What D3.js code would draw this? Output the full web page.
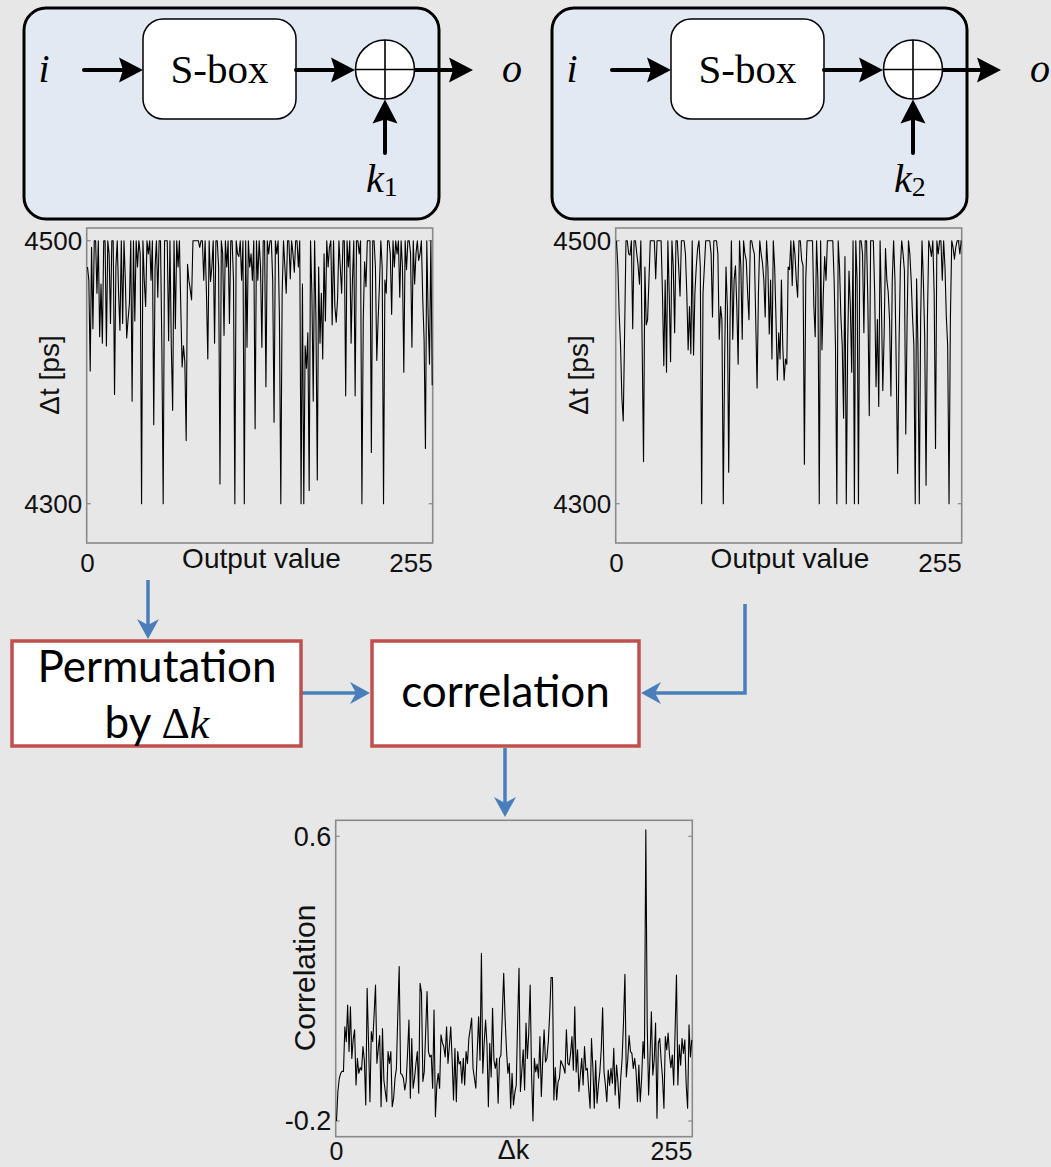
<!DOCTYPE html>
<html><head><meta charset="utf-8">
<script src="https://cdn.jsdelivr.net/npm/d3@7"></script>
<style>html,body{margin:0;padding:0;background:#e7e7e7;}svg{display:block}</style>
</head><body>
<script>
// ---- data ----
const outputIndex = d3.range(256); // output value 0..255 / Δk 0..255
const deltaT1 = [
4480,4470,4401,4495,4433,4500,4500,4460,4500,4427,4467,4422,4500,4500,4420,4500,
4490,4437,4500,4500,4383,4480,4500,4460,4432,4500,4437,4500,4470,4426,4440,4452,
4500,4378,4500,4439,4500,4480,4500,4490,4300,4500,4470,4450,4500,4490,4500,4470,
4500,4360,4480,4500,4457,4500,4500,4420,4300,4500,4500,4500,4424,4500,4420,4371,
4500,4433,4500,4480,4500,4450,4404,4420,4408,4348,4482,4470,4463,4455,4500,4500,
4500,4500,4500,4495,4500,4500,4470,4500,4460,4410,4500,4469,4480,4500,4422,4500,
4500,4480,4315,4500,4490,4428,4500,4480,4500,4437,4500,4500,4470,4300,4500,4490,
4488,4500,4470,4500,4300,4500,4419,4500,4480,4490,4470,4500,4357,4500,4470,4500,
4480,4419,4500,4500,4389,4500,4490,4500,4500,4470,4362,4500,4490,4500,4440,4300,
4460,4500,4480,4460,4500,4500,4471,4500,4490,4476,4500,4500,4480,4500,4300,4467,
4300,4420,4403,4430,4310,4500,4460,4378,4500,4440,4318,4480,4422,4460,4410,4490,
4439,4500,4480,4495,4500,4436,4500,4450,4438,4456,4500,4480,4460,4500,4500,4382,
4500,4480,4500,4422,4470,4500,4382,4500,4500,4490,4500,4300,4440,4484,4465,4500,
4500,4500,4339,4500,4500,4480,4409,4440,4467,4500,4480,4300,4470,4460,4500,4500,
4490,4444,4500,4480,4500,4490,4500,4457,4500,4480,4400,4500,4478,4500,4500,4490,
4419,4500,4467,4490,4500,4485,4490,4500,4456,4425,4342,4500,4443,4406,4500,4390];
const deltaT2 = [
4500,4480,4444,4420,4380,4363,4430,4500,4500,4490,4489,4500,4433,4500,4500,4490,
4481,4467,4500,4420,4332,4480,4436,4440,4470,4500,4500,4500,4500,4471,4500,4500,
4500,4500,4460,4405,4470,4400,4500,4460,4408,4500,4480,4430,4500,4500,4480,4458,
4500,4500,4500,4490,4460,4417,4450,4414,4500,4413,4460,4480,4494,4500,4480,4300,
4460,4480,4500,4500,4500,4500,4490,4442,4500,4500,4500,4490,4425,4450,4440,4300,
4410,4480,4450,4324,4440,4500,4425,4470,4481,4450,4406,4500,4480,4425,4500,4490,
4485,4460,4440,4500,4500,4494,4490,4440,4388,4460,4500,4490,4483,4470,4442,4500,
4480,4429,4470,4410,4500,4480,4440,4394,4430,4410,4470,4420,4394,4410,4406,4480,
4478,4500,4466,4500,4490,4470,4457,4500,4500,4485,4481,4330,4470,4500,4500,4500,
4500,4500,4450,4427,4500,4470,4300,4500,4417,4460,4488,4470,4500,4500,4500,4500,
4500,4470,4420,4300,4500,4480,4442,4420,4365,4488,4300,4420,4477,4450,4400,4500,
4300,4500,4470,4300,4500,4500,4490,4430,4500,4500,4450,4367,4500,4500,4500,4460,
4389,4440,4374,4500,4450,4386,4429,4494,4470,4461,4440,4382,4470,4500,4470,4400,
4323,4420,4480,4500,4490,4477,4353,4440,4500,4490,4470,4442,4420,4300,4471,4420,
4300,4440,4500,4470,4427,4314,4440,4500,4495,4488,4500,4460,4342,4500,4490,4500,
4500,4470,4500,4480,4442,4420,4300,4440,4500,4495,4486,4495,4500,4500,4490,4500];
const correlation = [
-0.2,-0.117,-0.08,-0.066,-0.06,-0.061,0.065,0.023,0.126,-0.005,0.121,-0.024,0.03,0.056,-0.099,-0.024,
-0.066,-0.05,-0.057,0.009,-0.03,-0.155,0.173,0.02,-0.146,0.051,0.023,0.1,0.182,-0.038,0.004,0.04,
-0.16,0.06,-0.085,-0.117,-0.146,-0.005,-0.038,-0.005,-0.16,-0.136,-0.08,-0.052,0.1,0.234,-0.066,-0.07,
-0.08,-0.113,-0.089,-0.01,0.084,-0.136,0.032,-0.108,-0.08,-0.04,-0.005,-0.122,0.187,0.16,-0.089,-0.061,
0.05,0.164,-0.005,-0.02,-0.015,-0.108,0.112,-0.188,-0.1,-0.066,-0.108,0.042,0.02,0.009,-0.02,0.065,
-0.038,0.01,0.065,-0.029,-0.141,0.004,-0.146,-0.005,-0.04,-0.033,-0.094,-0.024,-0.099,-0.005,-0.038,0.032,
0.06,0.089,-0.052,-0.08,-0.108,-0.005,0.093,-0.029,0.271,-0.066,0.02,0.084,0.014,-0.16,0.018,-0.076,
0.117,-0.03,-0.052,-0.024,-0.15,-0.024,-0.015,0.1,0.215,0.089,0.0,-0.066,-0.038,-0.164,-0.066,-0.155,
-0.12,-0.099,0.08,0.229,-0.117,-0.06,0.0,-0.113,0.075,-0.024,0.05,0.182,-0.071,-0.2,-0.024,-0.062,
-0.04,-0.08,0.037,-0.131,-0.03,0.056,-0.034,-0.024,0.023,0.1,0.203,0.203,-0.141,-0.05,-0.141,-0.09,
-0.08,-0.03,-0.04,-0.05,-0.066,0.056,-0.038,-0.043,-0.01,0.037,-0.057,0.121,-0.062,0.0,-0.117,-0.07,
-0.024,-0.099,0.009,-0.057,-0.052,-0.11,-0.164,0.032,-0.05,-0.164,-0.03,-0.15,-0.099,-0.062,0.0,0.118,
-0.062,-0.099,-0.146,-0.057,-0.1,-0.052,-0.094,0.004,-0.127,-0.043,-0.09,-0.164,-0.08,-0.024,0.08,0.212,
-0.076,-0.03,0.04,-0.005,-0.01,-0.052,-0.024,-0.06,-0.146,-0.043,-0.146,-0.08,0.023,-0.024,0.618,0.07,
-0.127,-0.02,0.107,-0.071,-0.03,0.075,-0.192,0.02,0.032,-0.03,-0.08,-0.164,0.037,0.0,0.047,-0.015,
-0.05,-0.015,-0.099,0.05,0.21,-0.099,0.014,-0.043,0.032,-0.01,0.028,-0.1,-0.164,0.07,-0.02,0.028];
const dtTicks = [4300, 4500];
const corrTicks = [-0.2, 0.6];
const xTickLabels = ["0", "255"];
const keyLabels = ["1", "2"];

// ---- drawing ----
const W = 1051, H = 1167;
const svg = d3.select("body").append("svg").attr("width", W).attr("height", H);
svg.append("rect").attr("width", W).attr("height", H).attr("fill", "#e7e7e7");

const SERIF = "'Liberation Serif','Times New Roman',serif";
const SANS = "'Liberation Sans',Arial,sans-serif";

function blackArrow(g, x1, y1, x2, y2) {
  const L = 24, hw = 12.5, notch = 4;
  const a = Math.atan2(y2 - y1, x2 - x1), c = Math.cos(a), s = Math.sin(a);
  const bx = x2 - L * c, by = y2 - L * s;
  g.append("line").attr("x1", x1).attr("y1", y1).attr("x2", bx + notch * c).attr("y2", by + notch * s)
    .attr("stroke", "#000").attr("stroke-width", 4).attr("stroke-linecap", "round");
  g.append("path").attr("d",
    `M${x2},${y2} L${bx - hw * s},${by + hw * c} L${bx + notch * c},${by + notch * s} L${bx + hw * s},${by - hw * c} Z`)
    .attr("fill", "#000");
}

function cipherBox(dx, sub) {
  const g = svg.append("g").attr("transform", `translate(${dx},0)`);
  g.append("rect").attr("x", 24).attr("y", 8).attr("width", 415).attr("height", 211).attr("rx", 22)
    .attr("fill", "#e3e9f3").attr("stroke", "#000").attr("stroke-width", 3);
  g.append("rect").attr("x", 143).attr("y", 19).attr("width", 153).attr("height", 100).attr("rx", 20)
    .attr("fill", "#fff").attr("stroke", "#000").attr("stroke-width", 1.5);
  g.append("text").attr("x", 219.5).attr("y", 83).attr("text-anchor", "middle")
    .attr("font-family", SERIF).attr("font-size", 41).text("S-box");
  g.append("text").attr("x", 44).attr("y", 82).attr("text-anchor", "middle")
    .attr("font-family", SERIF).attr("font-style", "italic").attr("font-size", 40).text("i");
  g.append("text").attr("x", 512).attr("y", 82).attr("text-anchor", "middle")
    .attr("font-family", SERIF).attr("font-style", "italic").attr("font-size", 40).text("o");
  blackArrow(g, 84, 70, 143, 70);
  blackArrow(g, 296, 70, 355, 70);
  blackArrow(g, 415, 70, 473, 70);
  blackArrow(g, 385, 153, 385, 99.5);
  g.append("circle").attr("cx", 385).attr("cy", 69.5).attr("r", 29.5)
    .attr("fill", "#fff").attr("stroke", "#000").attr("stroke-width", 1.6);
  g.append("line").attr("x1", 355.5).attr("x2", 414.5).attr("y1", 69.5).attr("y2", 69.5).attr("stroke", "#000").attr("stroke-width", 1.6);
  g.append("line").attr("x1", 385).attr("x2", 385).attr("y1", 40).attr("y2", 99).attr("stroke", "#000").attr("stroke-width", 1.6);
  const t = g.append("text").attr("x", 366).attr("y", 192).attr("font-family", SERIF).attr("font-size", 40);
  t.append("tspan").attr("font-style", "italic").text("k");
  t.append("tspan").attr("font-size", 28).attr("dy", 4).text(sub);
}
cipherBox(0, keyLabels[0]);
cipherBox(528, keyLabels[1]);

function linePlot(o) {
  const g = svg.append("g");
  const x = d3.scaleLinear().domain([0, 255]).range([o.x0 + 0.8, o.x1 - 0.5]);
  const y = d3.scaleLinear().domain(o.tickVals).range(o.tickPix);
  g.append("rect").attr("x", o.x0).attr("y", o.y0).attr("width", o.x1 - o.x0).attr("height", o.y1 - o.y0)
    .attr("fill", "none").attr("stroke", "#8a8a8a").attr("stroke-width", 1.6);
  o.tickVals.forEach((v, i) => {
    g.append("line").attr("x1", o.x0).attr("x2", o.x0 + 4).attr("y1", y(v)).attr("y2", y(v)).attr("stroke", "#8a8a8a").attr("stroke-width", 1.2);
    g.append("line").attr("x1", o.x1 - 4).attr("x2", o.x1).attr("y1", y(v)).attr("y2", y(v)).attr("stroke", "#8a8a8a").attr("stroke-width", 1.2);
    g.append("text").attr("x", o.x0 - 4.5).attr("y", y(v) + 9.3).attr("text-anchor", "end")
      .attr("font-family", SANS).attr("font-size", o.tickSize).attr("fill", "#111").text(o.tickFmt(v));
  });
  g.append("text").attr("x", x(0)).attr("y", o.xTickY).attr("text-anchor", "middle")
    .attr("font-family", SANS).attr("font-size", o.xTickSize || o.tickSize).attr("fill", "#111").text(xTickLabels[0]);
  g.append("text").attr("x", o.x1).attr("y", o.xTickY).attr("text-anchor", "end")
    .attr("font-family", SANS).attr("font-size", o.xTickSize || o.tickSize).attr("fill", "#111").text(xTickLabels[1]);
  g.append("text").attr("x", o.xLabX).attr("y", o.xLabY).attr("text-anchor", "middle")
    .attr("font-family", SANS).attr("font-size", o.labSize).attr("fill", "#111").text(o.xLabel);
  g.append("text").attr("transform", `translate(${o.yLabX},${o.yLabY}) rotate(-90)`).attr("text-anchor", "middle")
    .attr("font-family", SANS).attr("font-size", o.yLabSize).attr("fill", "#111").text(o.yLabel);
  const line = d3.line().x((d, i) => x(outputIndex[i])).y(d => y(d));
  g.append("path").datum(o.data).attr("d", line).attr("fill", "none").attr("stroke", "#000").attr("stroke-width", 1.1)
    .attr("stroke-linejoin", "round");
}

linePlot({data: deltaT1, x0: 86.7, x1: 432.7, y0: 228, y1: 543, tickVals: dtTicks, tickPix: [503.7, 240.7],
  tickFmt: d => String(d), tickSize: 26, xTickY: 572, xLabel: "Output value", xLabX: 261.5, xLabY: 568, labSize: 28,
  yLabel: "Δt [ps]", yLabX: 59, yLabY: 375, yLabSize: 28});
linePlot({data: deltaT2, x0: 615.7, x1: 961.7, y0: 228, y1: 543, tickVals: dtTicks, tickPix: [503.7, 240.7],
  tickFmt: d => String(d), tickSize: 26, xTickY: 572, xLabel: "Output value", xLabX: 790, xLabY: 568, labSize: 28,
  yLabel: "Δt [ps]", yLabX: 588, yLabY: 375, yLabSize: 28});
linePlot({data: correlation, x0: 335.7, x1: 692.3, y0: 820.3, y1: 1136.7, tickVals: corrTicks, tickPix: [1121, 836.3],
  tickFmt: d => String(d), tickSize: 27, xTickSize: 25, xTickY: 1160, xLabel: "Δk", xLabX: 513.5, xLabY: 1159, labSize: 27,
  yLabel: "Correlation", yLabX: 315, yLabY: 978, yLabSize: 30});

// ---- flow boxes & blue arrows ----
const BLUE = "#4a7ebb", RED = "#c0504d";
function blueHead(x, y, dir) {
  const L = 20, hw = 11, n = 6;
  const d = {down: [0, 1], right: [1, 0], left: [-1, 0]}[dir];
  const c = d[0], s = d[1];
  const bx = x - L * c, by = y - L * s;
  svg.append("path").attr("d",
    `M${x},${y} L${bx - hw * s},${by + hw * c} L${bx + n * c},${by + n * s} L${bx + hw * s},${by - hw * c} Z`)
    .attr("fill", BLUE);
}
function blueLine(pts) {
  svg.append("path").attr("d", d3.line()(pts)).attr("fill", "none").attr("stroke", BLUE).attr("stroke-width", 3.5);
}
blueLine([[148, 580], [148, 630]]); blueHead(148, 639, "down");
blueLine([[302, 693], [362, 693]]); blueHead(370, 693, "right");
blueLine([[745, 604], [745, 693], [649, 693]]); blueHead(641, 693, "left");
blueLine([[505, 748], [505, 808]]); blueHead(505, 817, "down");

svg.append("rect").attr("x", 12).attr("y", 641).attr("width", 289).attr("height", 105)
  .attr("fill", "#fff").attr("stroke", RED).attr("stroke-width", 3.5);
svg.append("rect").attr("x", 372).attr("y", 641).attr("width", 267).attr("height", 105)
  .attr("fill", "#fff").attr("stroke", RED).attr("stroke-width", 3.5);
const LATO = "Lato,'Open Sans',sans-serif";
svg.append("text").attr("x", 157).attr("y", 682).attr("text-anchor", "middle")
  .attr("font-family", LATO).attr("font-size", 44).text("Permutation");
const by = svg.append("text").attr("x", 157).attr("y", 738).attr("text-anchor", "middle")
  .attr("font-family", LATO).attr("font-size", 44);
by.append("tspan").text("by ");
by.append("tspan").attr("font-family", SERIF).text("Δ");
by.append("tspan").attr("font-family", SERIF).attr("font-style", "italic").text("k");
svg.append("text").attr("x", 505.5).attr("y", 707).attr("text-anchor", "middle")
  .attr("font-family", LATO).attr("font-size", 44).text("correlation");
</script>
</body></html>
